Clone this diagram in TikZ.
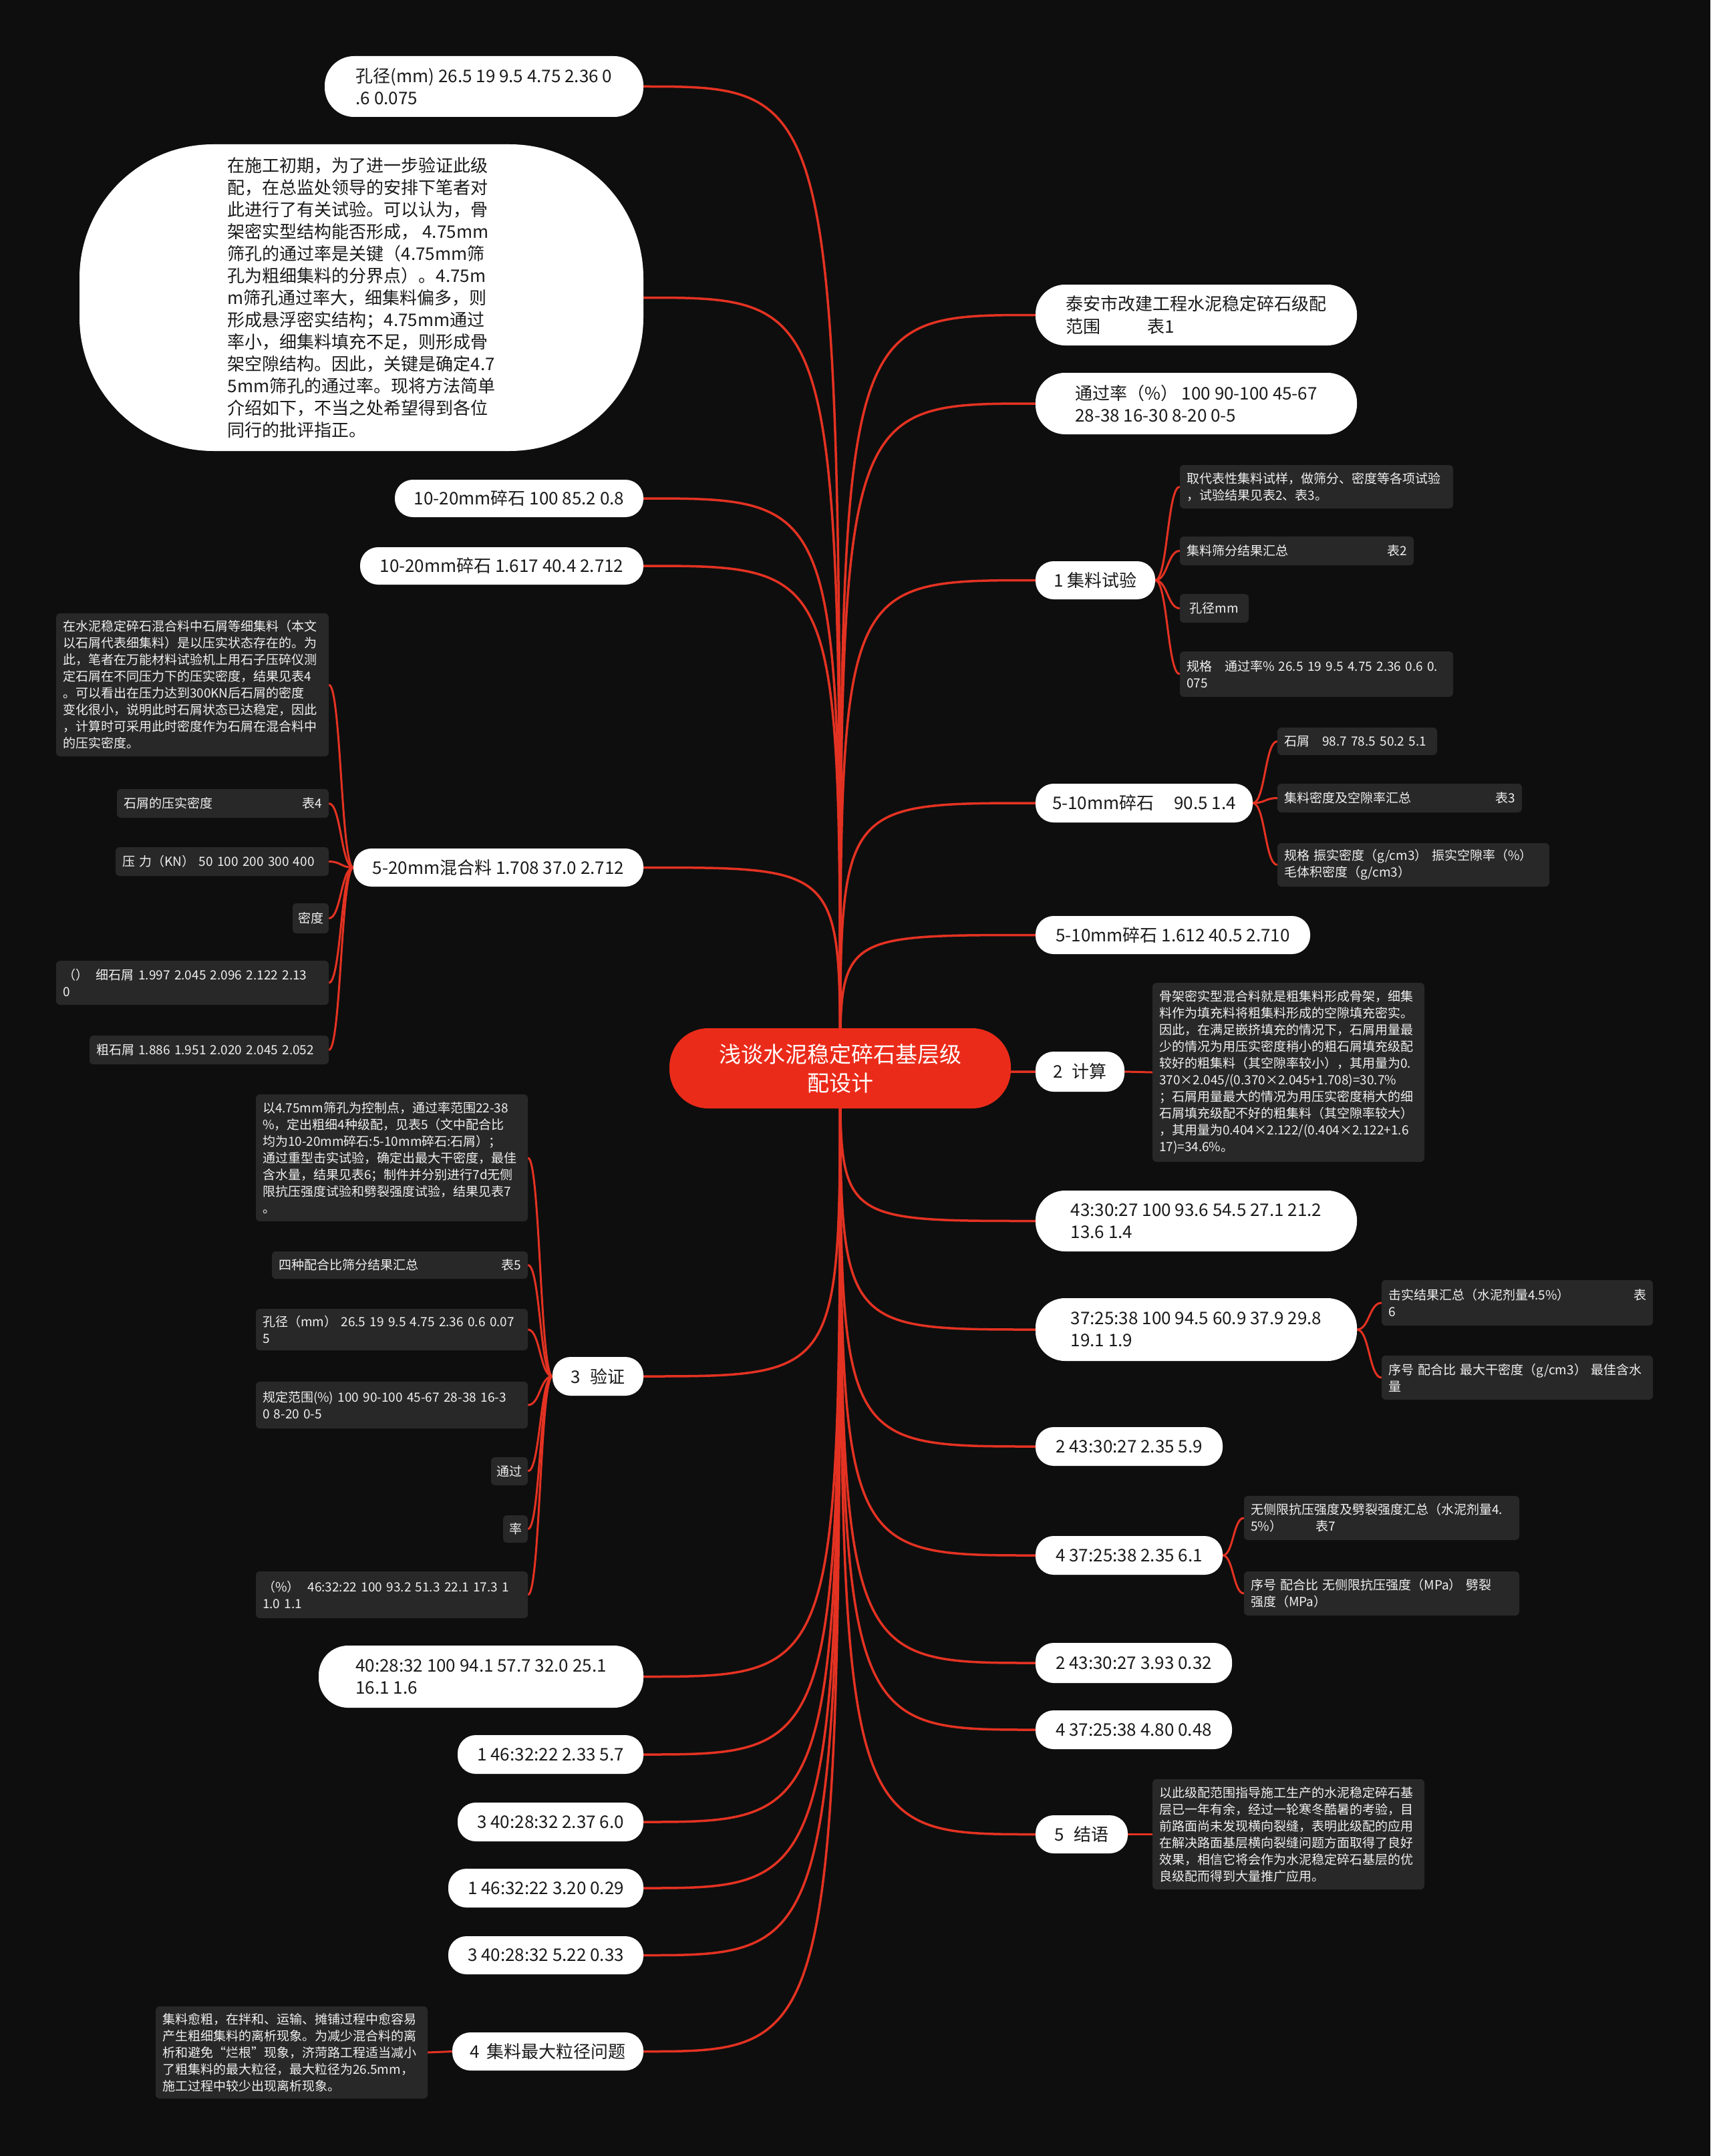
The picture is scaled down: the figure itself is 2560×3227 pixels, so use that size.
\documentclass[tikz,border=0pt]{standalone}
\usepackage{fontspec}
\setmainfont{Noto Sans CJK SC}
\usetikzlibrary{calc}
\pgfdeclarelayer{bgfill}
\pgfdeclarelayer{links}
\pgfsetlayers{bgfill,links,main}
\definecolor{bgc}{RGB}{14,14,14}
\definecolor{rootc}{RGB}{235,43,26}
\definecolor{linkc}{RGB}{228,50,34}
\definecolor{boxc}{RGB}{40,40,40}
\definecolor{txtd}{RGB}{26,26,26}
\definecolor{txtl}{RGB}{240,240,240}
\newcommand\rfill{\hskip 0pt plus 1filll}
\newcommand\mylinkR[2]{\path ($(#1.east)!0.5!(#2.west)$) coordinate (tmpm);
  \draw[sublink] (#1.east) .. controls (tmpm |- #1.east) and (tmpm |- #2.west) .. (#2.west);}
\newcommand\mylinkL[2]{\path ($(#1.west)!0.5!(#2.east)$) coordinate (tmpm);
  \draw[sublink] (#1.west) .. controls (tmpm |- #1.west) and (tmpm |- #2.east) .. (#2.east);}
\newcommand\rootL[1]{\draw[mainlink] (root.center) .. controls (root.center |- #1.east) and (root.center |- #1.east) .. (#1.east);}
\newcommand\rootR[1]{\draw[mainlink] (root.center) .. controls (root.center |- #1.west) and (root.center |- #1.west) .. (#1.west);}
\tikzset{
  rootnode/.style={fill=rootc, text=white, rounded corners=58pt, inner sep=0pt, align=center, font=\fontsize{33}{43}\selectfont},
  topic/.style={fill=white, text=txtd, inner sep=0pt, align=left, font=\fontsize{26}{33}\selectfont},
  pillA/.style={topic, rounded corners=27pt},
  pillB/.style={topic, rounded corners=44pt},
  leaf/.style={fill=boxc, text=txtl, rounded corners=6pt, inner xsep=10pt, inner ysep=0pt, align=left, font=\fontsize{19}{25}\selectfont},
  leafs/.style={fill=boxc, text=txtl, rounded corners=6pt, inner sep=0pt, align=center, font=\fontsize{19}{25}\selectfont},
  mainlink/.style={draw=linkc, line width=3.5pt},
  sublink/.style={draw=linkc, line width=3pt},
  sz/.style 2 args={minimum width=#1pt, minimum height=#2pt},
}
\begin{document}
\begin{tikzpicture}[x=1pt, y=-1pt]
\useasboundingbox (0,0) rectangle (2560,3227);
\begin{pgfonlayer}{bgfill}
\fill[bgc] (0,0) rectangle (2560,3227);
\end{pgfonlayer}

% root
\node[rootnode, sz={511}{120}] (root) at (1257.5,1599) {浅谈水泥稳定碎石基层级\\配设计};

% left topics
\node[pillB, sz={477}{91}] (L1) at (724.5,129.5) {孔径(mm) 26.5 19 9.5 4.75 2.36 0\\.6 0.075};
\node[topic, rounded corners=200pt, sz={844}{459}] (L2) at (541,445.5) {在施工初期，为了进一步验证此级\\配，在总监处领导的安排下笔者对\\此进行了有关试验。可以认为，骨\\架密实型结构能否形成， 4.75mm\\筛孔的通过率是关键（4.75mm筛\\孔为粗细集料的分界点）。4.75m\\m筛孔通过率大，细集料偏多，则\\形成悬浮密实结构；4.75mm通过\\率小，细集料填充不足，则形成骨\\架空隙结构。因此，关键是确定4.7\\5mm筛孔的通过率。现将方法简单\\介绍如下，不当之处希望得到各位\\同行的批评指正。};
\node[pillA, sz={372}{56}] (L3) at (777,746) {10-20mm碎石 100 85.2 0.8};
\node[pillA, sz={424}{56}] (L4) at (751,847) {10-20mm碎石 1.617 40.4 2.712};
\node[pillA, sz={434}{57}] (L5) at (746,1298.5) {5-20mm混合料 1.708 37.0 2.712};
\node[pillA, sz={136}{58}] (L6) at (895,2060) {3\hspace{14pt}验证};
\node[pillB, sz={486}{93}] (L7) at (720,2509.5) {40:28:32 100 94.1 57.7 32.0 25.1\\16.1 1.6};
\node[pillA, sz={278}{58}] (L8) at (824,2626) {1 46:32:22 2.33 5.7};
\node[pillA, sz={278}{58}] (L9) at (824,2727) {3 40:28:32 2.37 6.0};
\node[pillA, sz={292}{58}] (L10) at (817,2826) {1 46:32:22 3.20 0.29};
\node[pillA, sz={292}{57}] (L11) at (817,2926.5) {3 40:28:32 5.22 0.33};
\node[pillA, sz={286}{57}] (L12) at (820,3070.5) {4\hspace{10pt}集料最大粒径问题};

% right topics
\node[pillB, sz={481}{91}] (R1) at (1790.5,471.5) {泰安市改建工程水泥稳定碎石级配\\范围\hspace{70pt}表1};
\node[pillB, sz={481}{92}] (R2) at (1790.5,604) {通过率（\%） 100 90-100 45-67\\28-38 16-30 8-20 0-5};
\node[pillA, sz={179}{57}] (R3) at (1639.5,868.5) {1 集料试验};
\node[pillA, sz={325}{58}] (R4) at (1712.5,1202) {5-10mm碎石\hspace{30pt}90.5 1.4};
\node[pillA, sz={411}{57}] (R5) at (1755.5,1399.5) {5-10mm碎石 1.612 40.5 2.710};
\node[pillA, sz={133}{60}] (R6) at (1616.5,1604) {2\hspace{14pt}计算};
\node[pillB, sz={481}{91}] (R7) at (1790.5,1827.5) {43:30:27 100 93.6 54.5 27.1 21.2\\13.6 1.4};
\node[pillB, sz={481}{94}] (R8) at (1790.5,1990) {37:25:38 100 94.5 60.9 37.9 29.8\\19.1 1.9};
\node[pillA, sz={280}{58}] (R9) at (1690,2165) {2 43:30:27 2.35 5.9};
\node[pillA, sz={280}{58}] (R10) at (1690,2328) {4 37:25:38 2.35 6.1};
\node[pillA, sz={294}{60}] (R11) at (1697,2489) {2 43:30:27 3.93 0.32};
\node[pillA, sz={294}{58}] (R12) at (1697,2589) {4 37:25:38 4.80 0.48};
\node[pillA, sz={138}{57}] (R13) at (1619,2745.5) {5\hspace{14pt}结语};

% right leaves
\node[leaf, text width=389pt, minimum height=65pt] (r3a) at (1970.5,728.5) {取代表性集料试样，做筛分、密度等各项试验\\，试验结果见表2、表3。};
\node[leaf, text width=330pt, minimum height=43pt] (r3b) at (1941,824.5) {集料筛分结果汇总\rfill 表2};
\node[leafs, sz={103}{43}] (r3c) at (1817.5,910.5) {孔径mm};
\node[leaf, text width=389pt, minimum height=68pt] (r3d) at (1970.5,1009) {规格　通过率\% 26.5 19 9.5 4.75 2.36 0.6 0.\\075};
\node[leaf, text width=219pt, minimum height=41pt] (r4a) at (2031.5,1109.5) {石屑　98.7 78.5 50.2 5.1};
\node[leaf, text width=346pt, minimum height=43pt] (r4b) at (2095,1194.5) {集料密度及空隙率汇总\rfill 表3};
\node[leaf, text width=387pt, minimum height=65pt] (r4c) at (2115.5,1294.5) {规格 振实密度（g/cm3） 振实空隙率（\%）\\毛体积密度（g/cm3）};
\node[leaf, text width=387pt, minimum height=268pt] (r6a) at (1928.5,1605) {骨架密实型混合料就是粗集料形成骨架，细集\\料作为填充料将粗集料形成的空隙填充密实。\\因此，在满足嵌挤填充的情况下，石屑用量最\\少的情况为用压实密度稍小的粗石屑填充级配\\较好的粗集料（其空隙率较小），其用量为0.\\370×2.045/(0.370×2.045+1.708)=30.7\%\\；石屑用量最大的情况为用压实密度稍大的细\\石屑填充级配不好的粗集料（其空隙率较大）\\，其用量为0.404×2.122/(0.404×2.122+1.6\\17)=34.6\%。};
\node[leaf, text width=386pt, minimum height=68pt] (r8a) at (2271,1950) {击实结果汇总（水泥剂量4.5\%）\rfill 表\\6};
\node[leaf, text width=386pt, minimum height=66pt] (r8b) at (2271,2062) {序号 配合比 最大干密度（g/cm3） 最佳含水\\量};
\node[leaf, text width=392pt, minimum height=66pt] (r10a) at (2068,2272) {无侧限抗压强度及劈裂强度汇总（水泥剂量4.\\5\%）\hspace{50pt}表7};
\node[leaf, text width=392pt, minimum height=66pt] (r10b) at (2068,2385) {序号 配合比 无侧限抗压强度（MPa） 劈裂\\强度（MPa）};
\node[leaf, text width=387pt, minimum height=165pt] (r13a) at (1928.5,2745.5) {以此级配范围指导施工生产的水泥稳定碎石基\\层已一年有余，经过一轮寒冬酷暑的考验，目\\前路面尚未发现横向裂缝，表明此级配的应用\\在解决路面基层横向裂缝问题方面取得了良好\\效果，相信它将会作为水泥稳定碎石基层的优\\良级配而得到大量推广应用。};

% left leaves of L5
\node[leaf, text width=388pt, minimum height=214pt] (l5a) at (288,1025) {在水泥稳定碎石混合料中石屑等细集料（本文\\以石屑代表细集料）是以压实状态存在的。为\\此，笔者在万能材料试验机上用石子压碎仪测\\定石屑在不同压力下的压实密度，结果见表4\\。可以看出在压力达到300KN后石屑的密度\\变化很小，说明此时石屑状态已达稳定，因此\\，计算时可采用此时密度作为石屑在混合料中\\的压实密度。};
\node[leaf, text width=297pt, minimum height=43pt] (l5b) at (333.5,1202.5) {石屑的压实密度\rfill 表4};
\node[leaf, text width=299pt, minimum height=43pt] (l5c) at (332.5,1289.5) {压 力（KN） 50 100 200 300 400};
\node[leafs, sz={54}{45}] (l5d) at (465,1374.5) {密度};
\node[leaf, text width=388pt, minimum height=66pt] (l5e) at (288,1471) {（）\hspace{12pt}细石屑 1.997 2.045 2.096 2.122 2.13\\0};
\node[leaf, text width=338pt, minimum height=43pt] (l5f) at (313,1571.5) {粗石屑 1.886 1.951 2.020 2.045 2.052};

% left leaves of L6
\node[leaf, text width=387pt, minimum height=190pt] (l6a) at (586.5,1733) {以4.75mm筛孔为控制点，通过率范围22-38\\\%，定出粗细4种级配，见表5（文中配合比\\均为10-20mm碎石:5-10mm碎石:石屑）；\\通过重型击实试验，确定出最大干密度，最佳\\含水量，结果见表6；制件并分别进行7d无侧\\限抗压强度试验和劈裂强度试验，结果见表7\\。};
\node[leaf, text width=363pt, minimum height=41pt] (l6b) at (598.5,1893.5) {四种配合比筛分结果汇总\rfill 表5};
\node[leaf, text width=387pt, minimum height=62pt] (l6c) at (586.5,1990) {孔径（mm） 26.5 19 9.5 4.75 2.36 0.6 0.07\\5};
\node[leaf, text width=387pt, minimum height=70pt] (l6d) at (586.5,2103) {规定范围(\%) 100 90-100 45-67 28-38 16-3\\0 8-20 0-5};
\node[leafs, sz={55}{42}] (l6e) at (762.5,2202) {通过};
\node[leafs, sz={37}{41}] (l6f) at (771.5,2288.5) {率};
\node[leaf, text width=387pt, minimum height=70pt] (l6g) at (586.5,2387) {（\%）\hspace{12pt}46:32:22 100 93.2 51.3 22.1 17.3 1\\1.0 1.1};

% left leaf of L12
\node[leaf, text width=387pt, minimum height=138pt] (l12a) at (436.5,3072) {集料愈粗，在拌和、运输、摊铺过程中愈容易\\产生粗细集料的离析现象。为减少混合料的离\\析和避免“烂根”现象，济菏路工程适当减小\\了粗集料的最大粒径，最大粒径为26.5mm，\\施工过程中较少出现离析现象。};

\begin{pgfonlayer}{links}
\rootL{L1}\rootL{L2}\rootL{L3}\rootL{L4}\rootL{L5}\rootL{L6}
\rootL{L7}\rootL{L8}\rootL{L9}\rootL{L10}\rootL{L11}\rootL{L12}
\rootR{R1}\rootR{R2}\rootR{R3}\rootR{R4}\rootR{R5}\rootR{R6}\rootR{R7}
\rootR{R8}\rootR{R9}\rootR{R10}\rootR{R11}\rootR{R12}\rootR{R13}
\mylinkR{R3}{r3a}\mylinkR{R3}{r3b}\mylinkR{R3}{r3c}\mylinkR{R3}{r3d}
\mylinkR{R4}{r4a}\mylinkR{R4}{r4b}\mylinkR{R4}{r4c}
\mylinkR{R6}{r6a}
\mylinkR{R8}{r8a}\mylinkR{R8}{r8b}
\mylinkR{R10}{r10a}\mylinkR{R10}{r10b}
\mylinkR{R13}{r13a}
\mylinkL{L5}{l5a}\mylinkL{L5}{l5b}\mylinkL{L5}{l5c}\mylinkL{L5}{l5d}\mylinkL{L5}{l5e}\mylinkL{L5}{l5f}
\mylinkL{L6}{l6a}\mylinkL{L6}{l6b}\mylinkL{L6}{l6c}\mylinkL{L6}{l6d}\mylinkL{L6}{l6e}\mylinkL{L6}{l6f}\mylinkL{L6}{l6g}
\mylinkL{L12}{l12a}
\end{pgfonlayer}
\end{tikzpicture}
\end{document}
